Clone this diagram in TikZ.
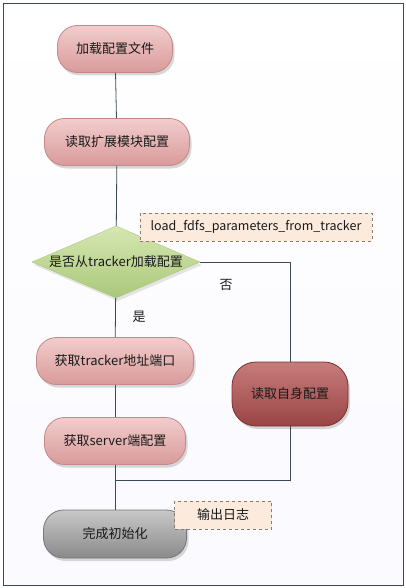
\documentclass[tikz,border=0pt]{standalone}
\usepackage{fontspec}
\setmainfont{Noto Sans CJK SC}
\usetikzlibrary{shapes.geometric,shadows}

\definecolor{linec}{HTML}{3A4A55}
\definecolor{pinktop}{HTML}{F2CDCD}
\definecolor{pinkbot}{HTML}{D99A9A}
\definecolor{pinkrim}{HTML}{C48888}
\definecolor{redtop}{HTML}{C77C7C}
\definecolor{redbot}{HTML}{9A4444}
\definecolor{redrim}{HTML}{7A3030}
\definecolor{graytop}{HTML}{C8C8C8}
\definecolor{graybot}{HTML}{8A8A8A}
\definecolor{grayrim}{HTML}{777777}
\definecolor{greentop}{HTML}{D6E7B3}
\definecolor{greenbot}{HTML}{AAC879}
\definecolor{notefill}{HTML}{FCEBDD}
\definecolor{notedraw}{HTML}{8A7A6A}

\begin{document}
\begin{tikzpicture}[x=1pt, y=-1pt, every node/.style={font=\fontsize{13}{15}\selectfont, text=black!90},
    stepbox/.style={rounded corners=20pt, draw=pinkrim, line width=0.8pt, top color=pinktop, bottom color=pinkbot,
        minimum height=47pt, drop shadow={shadow xshift=2pt, shadow yshift=-3pt, opacity=0.3}},
    selfbox/.style={stepbox, draw=redrim, top color=redtop, bottom color=redbot},
    endbox/.style={stepbox, draw=grayrim, top color=graytop, bottom color=graybot},
    askbox/.style={diamond, aspect=2.33, inner sep=0pt, draw=greenbot, top color=greentop, bottom color=greenbot,
        minimum width=168pt, minimum height=72pt, drop shadow={shadow xshift=2pt, shadow yshift=-3pt, opacity=0.2}},
    notebox/.style={draw=notedraw, dashed, fill=notefill, minimum height=28pt, inner xsep=6pt},
    link/.style={draw=linec, line width=0.8pt}]

        % frame
        \draw[draw=linec, line width=0.8pt, top color=white, bottom color=blue!2] (3,3) rectangle (403,585);
        \useasboundingbox (0,0) rectangle (406,588);

        % main column
        \node[stepbox, minimum width=115pt] (load) at (115,49) {加载配置文件};
        \node[stepbox, minimum width=145pt] (ext) at (117,142) {读取扩展模块配置};
        \node[askbox] (ask) at (116,262) {是否从tracker加载配置};
        \node[stepbox, minimum width=157pt] (trk) at (115,361) {获取tracker地址端口};
        \node[stepbox, minimum width=141pt] (srv) at (115,441) {获取server端配置};
        \node[endbox, minimum width=143pt, minimum height=48pt] (done) at (115,534) {完成初始化};

        % branch for 否
        \node[selfbox, minimum width=116pt, minimum height=64pt, rounded corners=24pt] (self) at (290,394) {读取自身配置};

        % notes
        \node[notebox, minimum width=232pt, font=\fontsize{12.5}{15}\selectfont] (fnote) at (256,227) {load\_fdfs\_parameters\_from\_tracker};
        \node[notebox, minimum width=97pt] (lognote) at (223,515) {输出日志};

        \coordinate (merge) at (115,480);

        % connectors
        \draw[link] (load) -- (ext);
        \draw[link] (ext) -- (ask);
        \draw[link] (ask) -- (trk);
        \draw[link] (trk) -- (srv);
        \draw[link] (srv) -- (done);
        \draw[link] (ask.east) -| (self.north);
        \draw[link] (self.south) |- (merge);

        % branch labels
        \node (nolbl) at (226,285) {否};
        \node (yeslbl) at (139,317) {是};
    \end{tikzpicture}
\end{document}
